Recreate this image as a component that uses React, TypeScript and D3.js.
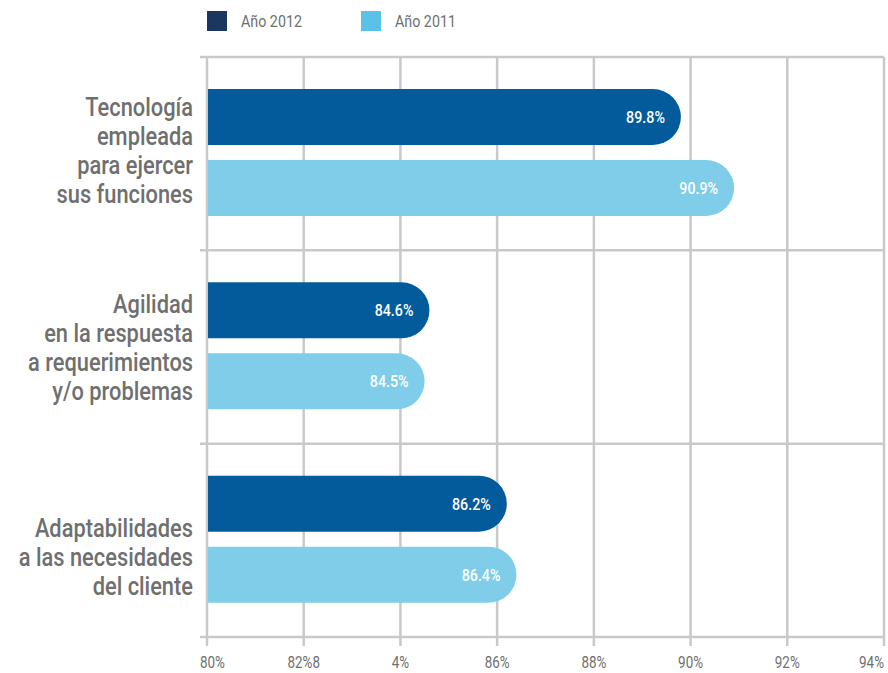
import { useEffect, useRef } from "react";
import * as d3 from "d3";

const WIDTH = 888;
const HEIGHT = 673;

const categories = [
  ["Tecnología", "empleada", "para ejercer", "sus funciones"],
  ["Agilidad", "en la respuesta", "a requerimientos", "y/o problemas"],
  ["Adaptabilidades", "a las necesidades", "del cliente"],
];
const series = ["Año 2012", "Año 2011"];
const values2012 = [89.8, 84.6, 86.2];
const values2011 = [90.9, 84.5, 86.4];
const tickValues = [80, 82, 84, 86, 88, 90, 92, 94];
const tickLabels = ["80%", "82%8", "4%", "86%", "88%", "90%", "92%", "94%"];

const BAR_COLORS = ["#045b9b", "#7fcde9"];
const LEGEND_COLORS = ["#1b3760", "#5bc2e7"];
const GRID = "#c9c9c9";
const TEXT = "#6f6f6f";
const FONT = "Roboto, 'Noto Sans', sans-serif";
const SQUEEZE = 0.84; // the original uses a condensed face

// label block nudges per group (the last one sits a bit low in the original)
const LABEL_SHIFT = [-4, 0, 16];

export default function App() {
  const svgRef = useRef<SVGSVGElement | null>(null);

  useEffect(() => {
    if (!svgRef.current) return;
    const svg = d3.select(svgRef.current);
    svg.selectAll("*").remove();

    const left = 207;
    const right = 884;
    const top = 57;
    const bottom = 637;

    const x = d3.scaleLinear().domain([80, 94]).range([left, right]);
    const y = d3
      .scaleBand<number>()
      .domain(categories.map((_, i) => i))
      .range([top, bottom]);
    const inner = d3
      .scaleBand<string>()
      .domain(series)
      .range([32, 159])
      .paddingInner(15 / 71);

    const g = svg.append("g").style("font-family", FONT);

    // condensed text at (tx, ty)
    const squeezed = (parent: any, tx: number, ty: number) =>
      parent
        .append("g")
        .attr("transform", `translate(${tx},${ty}) scale(${SQUEEZE},1)`)
        .append("text");

    // vertical grid + ticks
    g.append("g")
      .selectAll("line")
      .data(tickValues)
      .enter()
      .append("line")
      .attr("x1", (d) => x(d))
      .attr("x2", (d) => x(d))
      .attr("y1", top)
      .attr("y2", bottom + 9)
      .attr("stroke", GRID)
      .attr("stroke-width", 2.5);

    // horizontal separators
    const seps = [...categories.map((_, i) => y(i) ?? 0), bottom];
    g.append("g")
      .selectAll("line")
      .data(seps)
      .enter()
      .append("line")
      .attr("x1", left - 7)
      .attr("x2", right)
      .attr("y1", (d) => d)
      .attr("y2", (d) => d)
      .attr("stroke", GRID)
      .attr("stroke-width", 2.5);

    // tick labels
    tickValues.forEach((v, i) => {
      const last = i === tickValues.length - 1;
      squeezed(g, x(v) + (i === 0 ? -7 : 0), 668)
        .attr("text-anchor", i === 0 ? "start" : last ? "end" : "middle")
        .attr("fill", TEXT)
        .style("font-size", "16px")
        .text(tickLabels[i]);
    });

    // bars: flat left, round right end
    const rows = categories.flatMap((_, i) => [
      { cat: i, s: series[0], v: values2012[i], c: 0 },
      { cat: i, s: series[1], v: values2011[i], c: 1 },
    ]);
    const h = inner.bandwidth();
    const r = h / 2;
    const barPath = (d: (typeof rows)[number]) => {
      const y0 = (y(d.cat) ?? 0) + (inner(d.s) ?? 0);
      const x0 = x(80) + 1;
      const x1 = x(d.v);
      const p = d3.path();
      p.moveTo(x0, y0);
      p.lineTo(x1 - r, y0);
      p.arc(x1 - r, y0 + r, r, -Math.PI / 2, Math.PI / 2);
      p.lineTo(x0, y0 + h);
      p.closePath();
      return p.toString();
    };
    g.append("g")
      .selectAll("path")
      .data(rows)
      .enter()
      .append("path")
      .attr("d", barPath)
      .attr("fill", (d) => BAR_COLORS[d.c]);

    rows.forEach((d) => {
      squeezed(g, x(d.v) - 16, (y(d.cat) ?? 0) + (inner(d.s) ?? 0) + r)
        .attr("dy", "0.36em")
        .attr("text-anchor", "end")
        .attr("fill", "#ffffff")
        .style("font-size", "17px")
        .style("font-weight", 500)
        .text(`${d.v.toFixed(1)}%`);
    });

    // category labels
    const lineH = 29;
    categories.forEach((lines, i) => {
      const cy = (y(i) ?? 0) + y.bandwidth() / 2 + LABEL_SHIFT[i];
      const t = squeezed(g, 193, cy)
        .attr("text-anchor", "end")
        .attr("fill", TEXT)
        .style("font-size", "26px")
        .style("font-weight", 500);
      lines.forEach((ln, j) => {
        t.append("tspan")
          .attr("x", 0)
          .attr("y", (j - (lines.length - 1) / 2) * lineH)
          .attr("dy", "0.36em")
          .text(ln);
      });
    });

    // legend
    [207, 361].forEach((lx, i) => {
      g.append("rect")
        .attr("x", lx)
        .attr("y", 11)
        .attr("width", 20)
        .attr("height", 20)
        .attr("fill", LEGEND_COLORS[i]);
      squeezed(g, lx + 34, 27)
        .attr("fill", TEXT)
        .style("font-size", "17px")
        .text(series[i]);
    });
  }, []);

  return (
    <svg
      ref={svgRef}
      width={WIDTH}
      height={HEIGHT}
      style={{ position: "absolute", left: 0, top: 0, background: "#fff" }}
    />
  );
}
